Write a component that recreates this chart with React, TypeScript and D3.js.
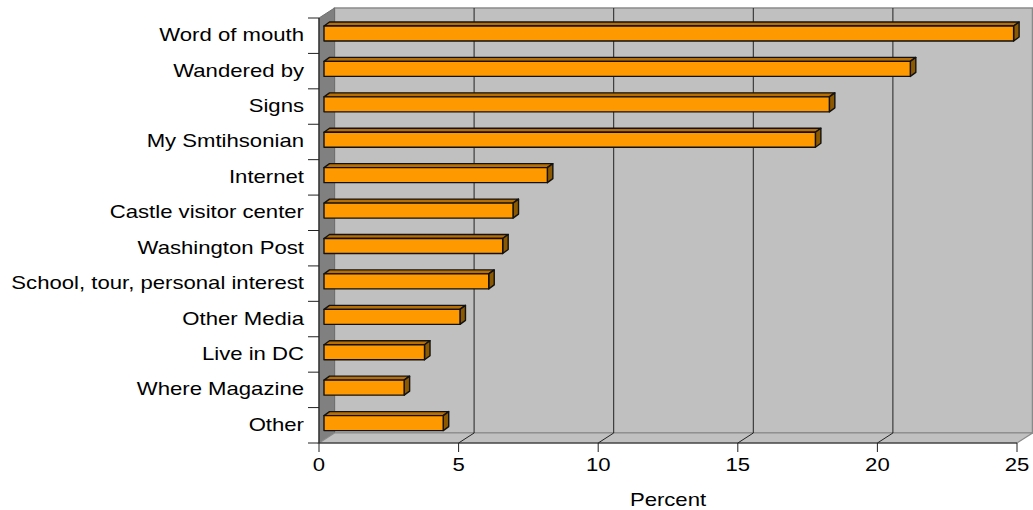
import React from "react";
import * as d3 from "d3";

const categories = [
  "Word of mouth",
  "Wandered by",
  "Signs",
  "My Smtihsonian",
  "Internet",
  "Castle visitor center",
  "Washington Post",
  "School, tour, personal interest",
  "Other Media",
  "Live in DC",
  "Where Magazine",
  "Other",
];
const values = [24.7, 21.0, 18.1, 17.6, 8.0, 6.77, 6.4, 5.9, 4.87, 3.6, 2.87, 4.27];
const xTicks = [0, 5, 10, 15, 20, 25];
const axisTitle = "Percent";

const W = 1033;
const H = 510;
const FONT = "'Liberation Sans', Arial, sans-serif";
const FS = 17.5;
const SX = 1.265;

export default function App() {
  const x = d3.scaleLinear().domain([0, 25]).range([319, 1017]);
  const y = d3.scaleBand<string>().domain(categories).range([18, 443]).padding(0);
  const dX = 15.5; // box depth
  const dY = -10;
  const bx = 5; // bar front offset
  const bdx = 5.5; // bar depth
  const bdy = -4;
  const x0 = x(0);
  const yTop = y.range()[0];
  const yBot = y.range()[1];
  const bw = y.bandwidth();

  return (
    <svg
      width={W}
      height={H}
      style={{ position: "absolute", left: 0, top: 0, background: "#fff" }}
      fontFamily={FONT}
    >
      {/* back wall */}
      <rect
        x={x0 + dX}
        y={yTop + dY}
        width={x(25) - x0}
        height={yBot - yTop}
        fill="#c0c0c0"
        stroke="#8a8a8a"
        strokeWidth={1.5}
      />
      {/* side wall */}
      <polygon
        points={`${x0},${yTop} ${x0 + dX},${yTop + dY} ${x0 + dX},${yBot + dY} ${x0},${yBot}`}
        fill="#808080"
        stroke="#707070"
        strokeWidth={1}
      />
      {/* floor */}
      <polygon
        points={`${x0},${yBot} ${x0 + dX},${yBot + dY} ${x(25) + dX},${yBot + dY} ${x(25)},${yBot}`}
        fill="#c0c0c0"
        stroke="#8a8a8a"
        strokeWidth={1.2}
      />
      {/* gridlines */}
      {xTicks.slice(1, -1).map((t) => (
        <g key={t}>
          <line x1={x(t) + dX} x2={x(t) + dX} y1={yTop + dY} y2={yBot + dY} stroke="#222" strokeWidth={1} />
          <line x1={x(t) + dX} x2={x(t)} y1={yBot + dY} y2={yBot} stroke="#222" strokeWidth={1} />
        </g>
      ))}
      <line x1={x(0)} x2={x(25)} y1={yBot} y2={yBot} stroke="#222" strokeWidth={1.2} />
      {/* x ticks */}
      {xTicks.map((t) => (
        <g key={"t" + t}>
          <line x1={x(t)} x2={x(t)} y1={yBot} y2={yBot + 9} stroke="#222" strokeWidth={1} />
          <text
            transform={`translate(${x(t)},${471}) scale(${SX},1)`}
            textAnchor="middle"
            fontSize={FS}
            fill="#000"
          >
            {t}
          </text>
        </g>
      ))}
      <text
        transform={`translate(${(x(0) + x(25)) / 2},${506}) scale(${SX},1)`}
        textAnchor="middle"
        fontSize={FS}
        fill="#000"
      >
        {axisTitle}
      </text>
      {/* y axis */}
      <line x1={x0} x2={x0} y1={yTop} y2={yBot} stroke="#222" strokeWidth={1.2} />
      {categories.map((c, i) => (
        <line key={"yt" + i} x1={x0 - 11} x2={x0} y1={y(c)!} y2={y(c)!} stroke="#222" strokeWidth={1} />
      ))}
      <line x1={x0 - 11} x2={x0} y1={yBot} y2={yBot} stroke="#222" strokeWidth={1} />
      {categories.map((c) => (
        <text
          key={"yl" + c}
          transform={`translate(${304},${y(c)! + bw / 2 + 5.5}) scale(${SX},1)`}
          textAnchor="end"
          fontSize={FS}
          fill="#000"
        >
          {c}
        </text>
      ))}
      {/* bars */}
      {categories.map((c, i) => {
        const v = values[i];
        const xl = x(0) + bx;
        const xr = x(v) + bx;
        const yt = y(c)! + 8;
        const yb = yt + 15;
        return (
          <g key={"b" + c} stroke="#111" strokeWidth={1.4} strokeLinejoin="round">
            <polygon
              points={`${xl},${yt} ${xl + bdx},${yt + bdy} ${xr + bdx},${yt + bdy} ${xr},${yt}`}
              fill="#b86e00"
            />
            <polygon
              points={`${xr},${yt} ${xr + bdx},${yt + bdy} ${xr + bdx},${yb + bdy} ${xr},${yb}`}
              fill="#8c5800"
            />
            <rect x={xl} y={yt} width={xr - xl} height={yb - yt} fill="#ff9900" />
          </g>
        );
      })}
    </svg>
  );
}
